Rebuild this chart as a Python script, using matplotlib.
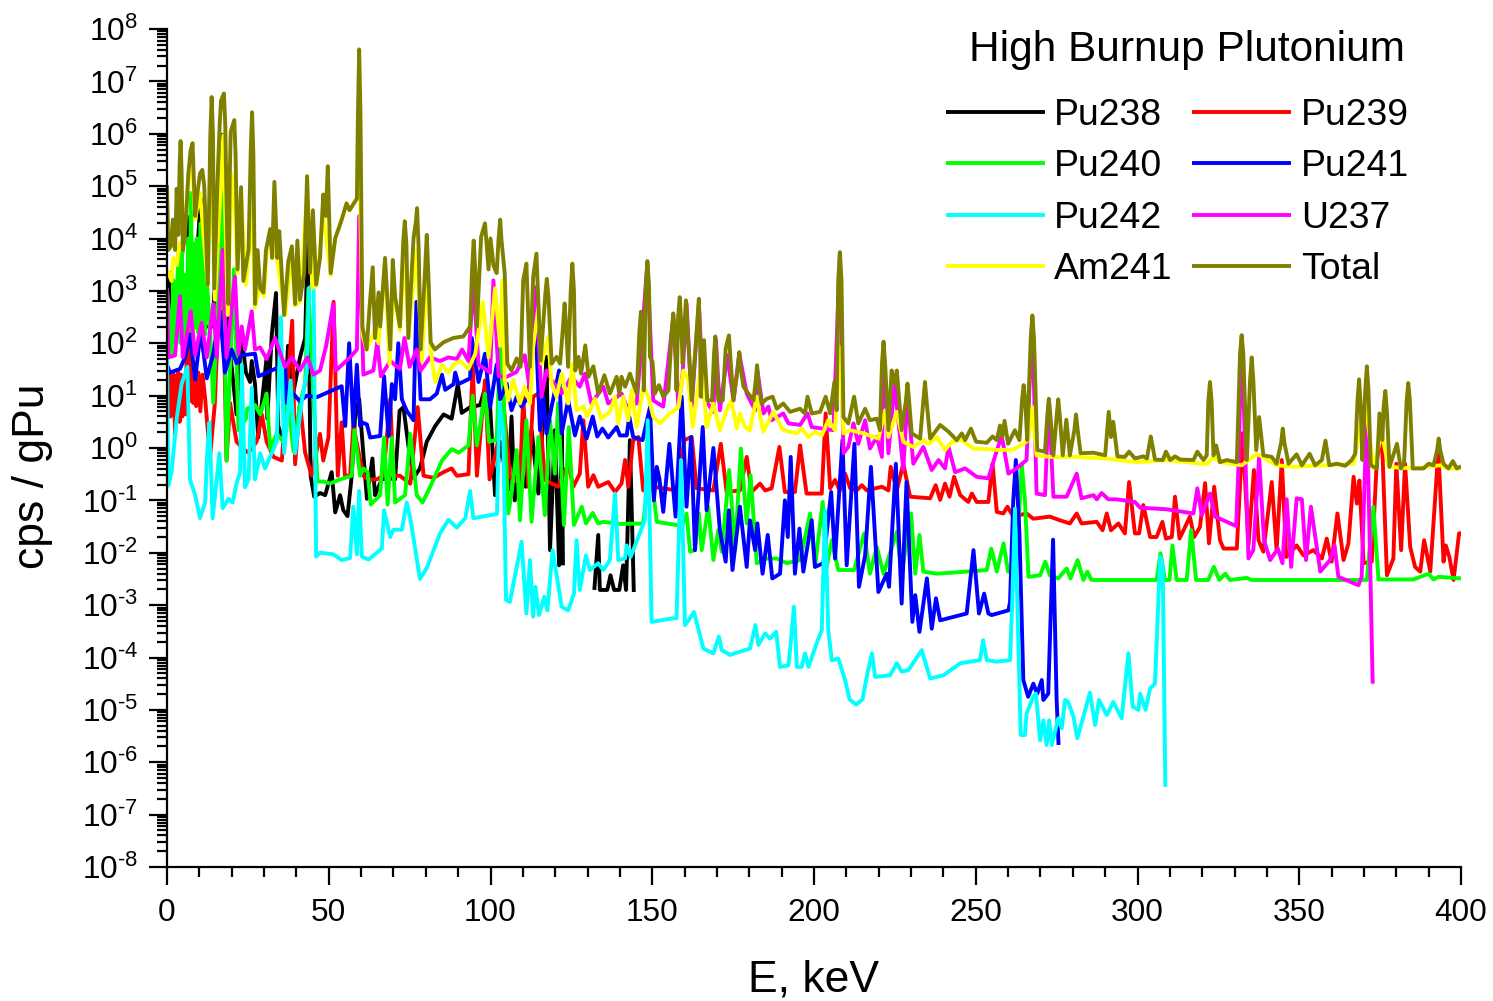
import numpy as np
import matplotlib
matplotlib.use("Agg")
import matplotlib.pyplot as plt
from matplotlib.ticker import FixedLocator, FixedFormatter, LogLocator, NullFormatter, MultipleLocator

plt.rcParams['font.family'] = ['Liberation Sans', 'DejaVu Sans']
plt.rcParams['mathtext.fontset'] = 'custom'
plt.rcParams['mathtext.rm'] = 'Liberation Sans'
plt.rcParams['mathtext.default'] = 'rm'

nan = float('nan')
# every series: (E in keV, log10 of cps/gPu)
pu238 = [(0,1.6),(0.9,3.34),(3,2.46),(4.8,3.78),(6.1,4.43),(8.1,2.46),(10.4,4.76),(11.8,2.32),(14.1,2.32),(17.2,5.98),(18.7,2.32),(21.5,.64),(23,2.17),(24.4,1.44),(25.7,1.26),(26.2,1.66),(27.2,1.22),(28.2,.2),(30.8,1.73),(31,.56),(32.4,2.17),(33.7,2.96),(34.4,.42),(36,.12),(37.4,1.95),(39.1,1.07),(41.1,1.73),(42.7,2.1),(43.5,4),(44.4,-.53),(45.5,-.93),(47.3,-.86),(48.9,-.9),(50.9,-.46),(52,-1.23),(53.5,-.9),(54.5,-1.19),(55.8,-1.3),(57.1,-.53),(58.1,.56),(59.4,.93),(60.4,.12),(61.8,-.97),(63.5,-.2),(64.3,-.9),(66.4,-.6),(68.5,-.57),(70.5,-.6),(71.9,.71),(73.1,.78),(74.6,.05),(76.2,-.57),(78.2,-.39),(80.3,.12),(82.9,.42),(85.5,.64),(88,.56),(89.9,1.22),(91.1,.67),(93.7,.78),(96.8,.82),(98.3,1.15),(99.9,.78),(101.4,-.9),(103,.12),(105.5,-.8),(106.5,.6),(107.5,-1.0),(108.6,-.23),(110.9,-.74),(112.7,.34),(114.8,-.87),(116.3,.6),(117.3,1.74),(118.4,-1.95),(119.9,.34),(121.2,-2.24),(122,.34),(122.4,-2.24),(123,nan),(132.1,-2.71),(133.3,-1.66),(133.8,-2.71),(136.1,-2.71),(137.1,-2.43),(138.2,-2.71),(139.8,-2.71),(141,-2.24),(141.9,-2.71),(143.1,.15),(144.3,-2.75)]

pu239 = [(.4,.86),(.8,1.44),(1.1,.6),(1.4,1.37),(1.8,.7),(2.1,1.4),(2.5,.27),(2.9,1.3),(3.5,1.44),(3.9,.5),(4.3,1.4),(4.7,.6),(5,1.3),(5.6,.64),(6.6,2.83),(7.2,.9),(7.7,1.8),(8.1,.86),(8.6,1.5),(9,.8),(9.7,1.44),(10.3,.7),(11,1.4),(11.8,.93),(13.3,-.17),(14.8,.86),(16.9,4.29),(18.4,-.24),(19.5,.86),(21.5,.12),(23.6,-.02),(25.2,-.09),(27.7,.12),(29.3,.64),(30.8,.12),(32.9,-.17),(35.5,-.24),(37.2,1.15),(38.7,2.43),(39.6,-.31),(41.1,.86),(42.7,-.09),(44.7,-.53),(47.3,.27),(48.3,-.24),(49.9,.2),(51.5,2.79),(52.8,-.53),(54,.49),(55,-.53),(56.6,-.53),(57.6,.42),(60.7,-.53),(62.3,-.6),(64.8,-.6),(66.9,-.53),(69,.93),(70,-.53),(72,-.53),(75.2,-.68),(77.5,.78),(79.3,-.53),(82.4,-.57),(85.5,-.46),(88,-.39),(89.6,-.53),(93.2,-.5),(94.5,1.59),(95.8,-.53),(98.3,1.29),(99.7,-.6),(101.9,-.02),(104,.86),(105.6,-.24),(106,-.55),(109.1,-.68),(110.1,.98),(111.7,-.74),(113.2,.98),(114.8,1.04),(116.8,-.61),(120.9,-.74),(124,-.3),(125.6,-.74),(127.6,-.49),(128.7,.53),(130.2,-.74),(131.8,-.52),(133.3,-.74),(136.4,-.65),(138.5,-.84),(140.5,-.68),(141.6,-.23),(142.6,-.74),(144.1,.15),(145.7,.21),(147.2,-.81),(150.3,-.74),(153.4,-.77),(157.5,-.81),(159.9,.15),(162.2,.21),(163.7,-.77),(168.9,-.81),(171.2,.08),(173,-.84),(177.1,-.81),(179.2,-.17),(180.7,-.84),(183.3,-.68),(184.9,-.81),(186.9,-.77),(189.3,.02),(191,-.84),(194.1,-.84),(195.7,.05),(197.7,-.87),(202.4,-.87),(203.6,.66),(205,-.77),(206.5,-.61),(208,-.81),(209.6,-.49),(211.2,-.77),(213.2,-.81),(214.8,-.71),(216.3,-.81),(221,-.74),(223,-.81),(223.7,-.36),(225.6,-.81),(227.6,-.3),(229.7,-.93),(235.9,-.96),(237.6,-.71),(239,-.99),(240.5,-.68),(241.9,-.93),(243.3,-.55),(245.2,-.9),(247.7,-1.03),(248.8,-.87),(250.3,-1.03),(253.9,-1.03),(255.2,-.3),(256.5,-1.22),(258.5,-1.25),(259.8,-1.12),(261.6,-1.31),(265.7,-1.25),(267.8,-1.35),(272.9,-1.31),(276,-1.38),(279.1,-1.44),(281.2,-1.25),(282.7,-1.44),(287.4,-1.41),(289.2,-1.57),(290.5,-1.25),(291.8,-1.57),(294.1,-1.44),(296.1,-1.63),(297.4,-.65),(299.2,-1.63),(300.5,-1.63),(301.8,-1.09),(303.9,-1.7),(305.9,-1.7),(307.7,-1.41),(308.8,-1.73),(310.6,-1.7),(311.6,-.93),(313,-1.73),(314.7,-1.51),(316.2,-1.31),(317.5,-1.7),(319.3,-1.51),(320.9,-.67),(322.1,-1.82),(323.7,-.74),(325.5,-1.76),(326.6,-1.92),(330.7,-1.92),(332.5,.28),(334.3,-1.86),(336,-.42),(337.4,-1.76),(338.9,-1.98),(341.5,-.65),(343,-1.95),(344.6,-.23),(346,-2.08),(349.2,-1.86),(351.3,-2.05),(354.4,-1.95),(357,-2.11),(358.5,-1.73),(360,-2.17),(361.8,-1.25),(363.7,-2.14),(365.2,-1.82),(366.8,-.55),(367.8,-1.06),(368.6,-.62),(369.9,-2.2),(372.4,-2.17),(374,-.23),(375.5,.28),(377.1,-2.43),(379.1,-2.11),(380,-.3),(381.5,-1.95),(382.7,-.3),(384.3,-1.89),(385.8,-2.27),(387.4,-2.36),(388.6,-1.76),(390.5,-2.36),(393,-.04),(394.6,-2.17),(395.3,-1.86),(396.4,-2.08),(397.7,-2.52),(399.4,-1.63),(400,-1.63)]

pu240 = [(0,3.05),(.9,2.3),(1.4,1.8),(2,3.2),(2.4,2),(3,2.9),(3.6,3.8),(4.2,2.0),(4.6,3.78),(5,1.95),(5.5,3.3),(6.1,2.0),(6.5,4.0),(7,2.2),(7.4,4.87),(7.9,2.1),(8.3,3.9),(8.7,2.3),(9.2,4),(9.7,2.2),(10.4,4.29),(10.9,2.1),(11.3,3.8),(11.8,2.17),(12.3,3.2),(13.3,2.3),(14.3,.86),(15.9,3.05),(17,5.82),(18.4,-.24),(20.7,3.41),(22.1,.34),(24.4,.56),(24.8,.75),(27.2,.82),(28.8,.64),(30.8,1.04),(31.9,-.02),(33.9,.27),(36,.12),(37.2,1.0),(39.1,-.06),(41.1,.86),(42.7,1.22),(43.7,3.05),(46.5,-.64),(48.4,-.64),(50.4,-.68),(53.5,-.6),(57.1,-.53),(57.9,.34),(59.7,-.53),(60.7,-.39),(62,-.46),(63,-1.08),(65.9,-.9),(67.1,.2),(68.2,-1.08),(69.5,.2),(70.5,-1.04),(73.6,-.9),(75.2,.27),(77.2,-.9),(79,-1.04),(81.3,-.75),(85,-.24),(88,-.02),(90.1,-.09),(93.2,.05),(94.5,1.0),(95.8,.05),(98.3,1.04),(99.6,.12),(101.9,.16),(103.2,2.32),(105.5,-1.25),(106.5,-.87),(108.1,-.04),(109.1,-1.38),(111.1,.53),(112.7,-1.41),(114.8,.21),(116.8,-1.28),(118.4,.53),(119.9,-.49),(120.9,.85),(122.7,-1.47),(124.2,.4),(125.8,-1.47),(128.2,-1.12),(129.5,-1.44),(131.6,-1.24),(133.3,-1.44),(134.9,-1.41),(140,-1.45),(147.2,-1.44),(149.3,-.3),(151.4,-1.41),(157.5,-1.47),(159.1,-1.51),(160.6,-1.25),(161.7,-1.98),(163.2,-1.95),(164.4,-1.25),(165.3,-1.95),(167.3,-1.12),(168.9,-2.14),(170.4,-1.57),(171.5,-1.98),(173.8,-.42),(175.6,-1.95),(177.4,-.01),(179.2,-1.44),(180.4,-.52),(182.3,-2.2),(185.4,-2.11),(188.5,-2.11),(191.6,-2.2),(195.7,-2.14),(198.8,-1.25),(200.3,-2.27),(202.7,-1.03),(203.9,-2.27),(205.5,-1.76),(207.5,-2.33),(210.6,-2.33),(212.4,-2.33),(215.5,-1.63),(217.3,-2.4),(219.4,-1.89),(221.5,-2.4),(225.6,-1.6),(227.1,-2.4),(230,-1.25),(231.3,-2.4),(232.6,-1.66),(233.8,-2.36),(237.9,-2.4),(247.2,-2.36),(253.4,-2.33),(254.8,-1.92),(256.5,-2.36),(258.6,-1.82),(260,-2.36),(262.4,-2.4),(264.2,-.3),(265.2,-1.0),(266.3,-2.46),(269.9,-2.43),(271.5,-2.17),(272.9,-2.43),(275.5,-2.49),(278.1,-2.3),(279.3,-2.49),(281.5,-2.14),(283.3,-2.52),(284.5,-2.36),(285.8,-2.52),(305.9,-2.52),(307.1,-2.01),(308.5,-2.52),(309.9,-2.52),(310.8,-1.86),(312.1,-2.52),(315.2,-2.52),(316.6,-1.57),(318.1,-2.52),(321.9,-2.52),(323.6,-2.27),(325.3,-2.52),(327.1,-2.4),(328.6,-2.52),(333.8,-2.48),(335.3,-2.52),(370.9,-2.52),(372.9,-1.12),(374.5,-2.51),(385.3,-2.51),(390,-2.4),(391.5,-2.51),(393,-2.46),(400,-2.49)]

pu241 = [(0,1.59),(.9,1.44),(4,1.51),(5.6,1.73),(7.1,2.17),(8.7,1.3),(10.4,2.24),(12.3,1.33),(14.3,1.8),(16.4,2.61),(17.9,1.44),(20,1.88),(21.5,1.62),(23.1,1.77),(27.2,1.8),(28.3,1.37),(30.8,1.44),(33.4,1.51),(36.5,1.59),(37,.86),(38.6,1.07),(41.1,.89),(43.2,1),(46.3,.97),(54,1.18),(55.1,.42),(56.3,2.0),(57.6,.42),(58.7,1.59),(59.7,.42),(60.2,.49),(61.8,.45),(62.8,.2),(65.9,.23),(67.1,1.37),(68.5,.23),(69.5,1.22),(70.5,.93),(71.5,2),(72.6,.93),(74.1,.71),(76.2,.53),(77.1,2.79),(78.4,.93),(81.3,.93),(83.4,1.04),(85,1.4),(86,1.11),(88.6,1.22),(89.1,1.44),(90.1,1.22),(93.7,1.33),(94.2,2.1),(96.3,1.26),(98.3,1.8),(99.9,.78),(101.9,1.59),(103,.93),(105,1.23),(106.5,.72),(108.1,.98),(109.6,.79),(111.7,.98),(113.7,2.69),(115.3,.34),(116.3,.98),(117.3,.28),(118.9,.79),(121.2,1.48),(122,.28),(124,.91),(126.1,.24),(127.6,.6),(129.7,.18),(131.6,.6),(133,.22),(134.6,.37),(136.4,.2),(139,.4),(140,.24),(142.1,.24),(142.9,.6),(144.1,.21),(147,.15),(149.3,.78),(150.5,-1),(151.4,-.36),(152.2,-.58),(153.4,-1.22),(155.3,.08),(157.2,-1.31),(159.1,.98),(160.6,-1.12),(162,.21),(163.2,-1.95),(165.6,.4),(166.8,-1.19),(168.9,0),(170.9,-1.57),(172.7,-2.17),(173.7,-1.19),(174.8,-2.33),(177.1,-1.12),(179.2,-2.27),(180.2,-1.38),(181.8,-1.95),(182.5,-1.44),(184.1,-2.4),(185.7,-1.66),(187.1,-2.49),(189.5,-2.4),(191,-1),(191.9,-1.7),(192.8,-.17),(194.1,-2.4),(195.5,-1.54),(196.7,-2.36),(199.3,-1.38),(200.3,-2.27),(202.9,-2.2),(205.3,-.84),(206.5,-2.11),(208.8,.15),(210.1,-2.24),(212.5,.08),(213.9,-2.65),(215.8,-2.05),(217.6,-.36),(219.9,-2.75),(222.5,-2.4),(223.2,-2.65),(225.3,-.3),(227.1,-2.97),(228.6,-.65),(230.4,-3.32),(231.3,-2.81),(232.6,-3.51),(234.9,-2.49),(236.4,-3.45),(237.7,-2.87),(239,-3.29),(247.2,-3.16),(249.3,-1.95),(251,-3.16),(252.6,-2.78),(253.9,-3.16),(254.9,-3.19),(260.1,-3.1),(260.6,-2.94),(261.6,-1.0),(262.4,-.23),(263.5,-1.63),(264.7,-4.43),(266.2,-4.75),(267.8,-4.5),(269,-4.69),(270.4,-4.43),(270.9,-4.81),(272.4,-4.69),(273.9,-1.75),(275,-4.81),(275.6,-5.67)]

pu242 = [(0,1.73),(.4,-.72),(1.4,-.46),(3,.56),(4.5,1.22),(6.3,1.55),(7.1,-.6),(8.7,-.9),(10.2,-1.34),(11.8,-1.04),(12.3,-.24),(13.1,.49),(14.1,-1.34),(15.2,-.68),(16.2,-.1),(17.2,-1.15),(19,-.97),(20.3,-1.04),(21.5,-.68),(22.6,-.46),(23.1,1.59),(24.1,-.75),(25.2,-.6),(26.2,1.15),(27.2,-.6),(28.8,-.1),(30.3,-.39),(33.9,.12),(35.2,2.5),(36.2,-.1),(38.2,1.29),(39.6,-.1),(41.6,.86),(43.2,1.44),(43.9,3.05),(45.3,3.12),(46.1,-2.07),(47.3,-2),(51.4,-2.03),(54,-2.14),(56.6,-2.1),(57.6,-1.12),(58.7,-2.03),(59.4,-.82),(60.2,-2.07),(62.3,-2.13),(66.4,-1.92),(67.1,-1.19),(69,-1.7),(70,-1.56),(72.6,-1.56),(74.1,-1.04),(75.2,-1.34),(78.2,-2.5),(80.3,-2.29),(84.4,-1.63),(87,-1.37),(89.6,-1.52),(92.2,-1.34),(93.7,-.82),(94.7,-1.34),(102,-1.26),(102.8,.86),(103.9,.34),(104.8,-2.9),(106,-2.94),(108.1,-2.27),(109.6,-1.79),(111.1,-3.16),(112.2,-2.14),(113.2,-3.22),(113.9,-2.65),(115,-3.19),(116.6,-2.84),(117.6,-3.1),(119.2,-1.95),(122,-3.03),(124,-3.1),(125.8,-2.78),(126.6,-1.76),(127.6,-2.71),(129.5,-2.05),(130.7,-2.33),(133.3,-2.2),(134.9,-2.33),(136.9,-2.14),(138.5,-.87),(139.5,-2.14),(141.6,-2.11),(142.1,-1.86),(143.3,-2.08),(145.7,-1.7),(147.7,-1.38),(148.6,.53),(149.8,-3.32),(156.5,-3.25),(157.5,-3.25),(158.9,-.23),(160.1,-3.38),(161.7,-3.25),(162.9,-3.13),(165.8,-3.83),(168.9,-3.92),(170.6,-3.6),(171.5,-3.86),(174,-3.95),(180.2,-3.83),(181.9,-3.38),(182.8,-3.76),(184.9,-3.54),(186.4,-3.64),(188.3,-3.51),(189.5,-4.18),(192.1,-4.15),(192.8,-3.73),(193.8,-3.03),(194.7,-4.18),(196.2,-4.18),(197.2,-3.92),(198.3,-4.18),(200.8,-3.73),(202.4,-3.48),(203.4,-1.19),(204.4,-3.48),(205.5,-4.05),(207.5,-4.02),(209.6,-4.43),(211,-4.8),(213,-4.9),(215,-4.8),(216.3,-4.37),(217.9,-3.92),(218.9,-4.37),(223.5,-4.34),(225.6,-4.11),(227.1,-4.27),(229.2,-4.24),(233.3,-3.86),(235.9,-4.4),(240,-4.34),(245.2,-4.11),(251.3,-4.05),(252.3,-3.67),(253.4,-4.05),(256.5,-4.08),(260.6,-4.05),(261.3,-2.9),(262.1,-1.16),(263.5,-4.5),(263.9,-5.48),(265.2,-5.48),(265.7,-5.07),(267.8,-4.75),(268.6,-4.69),(269.9,-5.58),(270.9,-5.2),(271.9,-5.67),(272.7,-5.2),(273.5,-5.67),(275.5,-5.16),(276.6,-5.35),(277.6,-4.81),(278.6,-4.85),(280.2,-5.13),(281.4,-5.54),(282.7,-5.26),(285.3,-4.67),(286.9,-5.29),(288.1,-4.81),(290.5,-5.1),(292.5,-4.85),(295.1,-5.16),(296.1,-4.56),(297.2,-3.92),(298.5,-4.94),(300.3,-5),(300.8,-4.69),(302.5,-5),(303.9,-4.59),(305.4,-4.5),(307,-2.08),(307.8,-2.27),(308.6,-6.47)]

u237 = [(0,3.05),(.4,1.73),(2.5,1.77),(4,2.9),(4.9,1.73),(6.6,2.32),(7.3,2.61),(8.7,1.77),(10.7,2.39),(12.3,1.73),(14.3,2.75),(15.4,1.73),(17.2,3.78),(18.4,1.73),(21,3.27),(22.1,1.8),(23.1,2.32),(24.1,1.88),(26.2,2.61),(27.2,1.88),(28.8,1.92),(30.8,1.7),(33.4,2.1),(36.5,1.55),(38.6,1.73),(41.1,1.48),(43.4,1.73),(45.3,1.4),(47.3,1.48),(49.2,1.95),(50.4,2.39),(51.4,2.75),(52.2,1.48),(56.6,1.73),(58.7,1.88),(59.4,4.43),(60.7,1.4),(63.8,1.48),(65,2.02),(66.1,1.37),(69,1.66),(72,1.51),(73.4,2.1),(75,1.55),(77.2,1.88),(78.4,1.48),(81.3,1.73),(84.4,1.66),(87,1.73),(89.6,1.7),(91.2,1.88),(93.2,1.66),(94.7,3.2),(96.3,1.59),(99.9,1.44),(100.9,3.2),(102.5,1.37),(105,1.36),(108,1.45),(110.6,1.77),(112.2,1.1),(114,3.07),(115.8,.98),(117.3,1.48),(118.9,1.3),(122,1.04),(125,1.36),(127.6,1.17),(129.2,1.42),(131.2,.85),(134.9,1.17),(136.4,.85),(140.5,1.04),(142.1,.79),(145.2,.85),(148.5,3.52),(150.3,.91),(153.4,.79),(156.5,2.5),(158.1,.79),(159.4,1.42),(160.6,2.76),(162.2,.79),(164.4,2.76),(165.8,.98),(168.9,.69),(169.7,2.06),(170.9,.72),(173.2,1.77),(175.1,.91),(176.9,1.8),(179.2,1.04),(181.8,.72),(182.5,1.48),(184.4,.66),(185.9,.79),(186.9,.53),(190.5,.66),(192.1,.47),(195.7,.44),(198,.66),(199.3,.4),(206,.34),(208,3.71),(209.1,-.1),(210.6,.02),(212.2,.47),(213.7,.08),(215.8,.53),(217.3,-.01),(219.4,.21),(221,-.17),(221.5,1.99),(223,-.1),(224.9,1.23),(226.6,.21),(227.6,-.42),(228.9,.98),(230.7,-.3),(233.8,.02),(236.4,-.42),(238.5,-.23),(240.5,-.39),(241.6,.02),(243.6,-.46),(246.7,-.39),(250.3,-.55),(253.9,-.58),(255.9,-.17),(258,.24),(260.1,-.49),(262.6,-.39),(265.7,-.23),(267.5,2.5),(268.8,-.87),(271.4,-.9),(272.6,.91),(274,-.93),(278.1,-.93),(281.2,-.49),(282.7,-.96),(286.4,-.9),(287.4,-.98),(288.9,-.86),(291,-.98),(293.6,-.98),(299.2,-1.03),(300.8,-1.14),(309,-1.17),(317.3,-1.25),(318.5,-.77),(319.9,-1.28),(322.4,-.87),(324,-1.31),(330.5,-1.49),(331.2,-.36),(332.2,2.15),(334.3,-2.11),(335.8,-1.95),(337.6,-.17),(339.1,-1.76),(341,-2.14),(343.4,-1.92),(344.8,-2.2),(346.1,-.98),(347.5,-2.27),(349.2,-.96),(350.8,-.98),(352.1,-2.14),(353.6,-1.12),(356.5,-2.36),(359.5,-2.14),(360.9,-1.86),(362.1,-2.46),(368.3,-2.62),(369.3,-2.46),(370.9,.78),(372.7,-4.5)]

am241 = [(0,3.41),(1.4,3.19),(2,3.63),(3,3.49),(4,3.92),(5,3.85),(6.6,5.09),(7.6,5.6),(8.7,4.36),(10.2,4.87),(12.6,3.12),(13.8,5.97),(14.8,2.83),(17.4,5.97),(18.8,2.54),(20,5.24),(21,4.51),(21.8,3.34),(22.9,4.87),(24.4,3.12),(26.3,4.51),(27.2,2.68),(28.8,3.1),(30,2.9),(30.8,3.7),(31.9,4.1),(34.1,3.56),(36.6,2.54),(38.6,3.78),(39.6,2.72),(41.1,2.8),(43.3,4.87),(45,3.05),(46.3,3.12),(48.3,4.5),(50.6,3.3),(52,4.0),(54,4.36),(55.5,4.67),(56.4,4.54),(58.7,4.76),(59.4,5.97),(60.4,2.17),(61.7,1.88),(64.8,2.32),(65.4,2.0),(67.4,3.5),(68.8,1.6),(70,3.05),(72,2.24),(73.5,3.78),(74.6,2.1),(77.2,3.78),(78.8,1.66),(80.3,3.41),(81.5,1.88),(82.9,1.26),(85,1.59),(87,1.44),(88.6,1.59),(90.6,1.66),(93.2,1.51),(95.3,1.8),(97.6,2.79),(99.4,1.73),(101.4,3.05),(103,1.95),(103.7,3.2),(104.4,1.3),(105.5,.91),(107,1.3),(109.1,.85),(110.6,1.17),(112.2,.85),(113.2,1.93),(114.8,2.69),(115.8,1.61),(117.8,2.12),(118.9,1.23),(120.4,.98),(122,1.42),(124,.85),(125.3,1.61),(126.6,.72),(128.7,.79),(129.9,.6),(132.3,.94),(134.3,.56),(136.9,.69),(138.5,.98),(139.5,.47),(141,.98),(142.6,.53),(143.6,1.1),(145.2,.4),(147.2,1.17),(148.8,.98),(150.3,.6),(152.4,.47),(155.5,.66),(158.1,.78),(159.6,1.48),(161.1,1.3),(162.5,.4),(165.3,1.67),(166.8,.4),(168.9,.85),(170.9,.34),(173,.72),(174.5,.91),(176.1,.37),(177.1,.66),(178.7,.4),(180.2,.34),(182.3,.98),(184.3,.31),(187.4,.69),(190.5,.34),(194.7,.28),(196.2,.37),(198.3,.21),(200.3,.31),(202.4,.24),(204.4,.53),(206.5,.34),(208,1.93),(209.1,.28),(211.2,.34),(215.3,.28),(219.9,.18),(222,.72),(223,.21),(225.6,.69),(227.6,.12),(230.7,.02),(233.8,.15),(235.4,.08),(238,.21),(240.5,-.04),(242.6,.12),(245.7,.15),(249.3,-.01),(257.5,-.04),(261.6,-.03),(264.7,.08),(266.2,.15),(267.5,.78),(268.8,-.14),(272.9,-.17),(281.2,-.17),(290.5,-.2),(294.1,-.23),(299.8,-.27),(309,-.23),(321.4,-.31),(323.5,-.17),(325.5,-.27),(332.2,-.33),(336.9,-.11),(343,-.33),(348.2,-.36),(366.8,-.3),(370.4,.91),(372.9,-.39),(375.5,.28),(377.6,-.36),(385.3,-.39),(393.6,-.33),(395.6,-.39),(400,-.39)]

total = [(0,5.02),(.4,3.78),(1.2,3.85),(1.8,4.36),(2.5,3.78),(3,4.95),(3.5,4.07),(3.9,5.4),(4.2,5.86),(4.5,5.3),(4.9,3.78),(5.6,4.07),(6.6,5.24),(7.3,5.68),(7.9,5.82),(8.7,4.43),(9.4,4.87),(10.2,5.24),(10.9,5.31),(11.5,5.02),(12.6,3.12),(13.4,6.0),(13.8,6.7),(14.2,6.0),(14.6,3.05),(15.6,5.09),(16.3,6.2),(16.7,6.63),(17.6,6.77),(18,6.2),(18.4,4.73),(19,2.75),(19.4,5.2),(19.7,6.04),(20.8,6.26),(21.2,5.6),(21.8,3.41),(22.9,4.98),(23.6,3.19),(25.2,3.78),(25.9,5.7),(26.3,6.41),(26.7,5.6),(27.2,2.75),(28,3.78),(28.8,3.05),(29.8,2.97),(30.6,3.78),(31.9,4.18),(32.5,3.63),(33.2,5.08),(34.1,3.63),(34.7,4.14),(36.2,2.54),(37.5,3.56),(38.6,3.85),(39.6,2.75),(40.3,3.96),(41.1,2.83),(42.4,3.34),(43.3,5.19),(44.2,3.34),(45.1,4.54),(46.1,3.12),(47.3,3.63),(48.3,4.84),(49.1,4.43),(49.7,5.38),(50.6,3.34),(52,4.0),(54,4.36),(55.5,4.67),(56.4,4.54),(58.7,4.76),(59,6.3),(59.4,7.61),(59.8,6.4),(60.4,2.32),(61.7,1.88),(62.6,2.68),(63.6,3.45),(64.3,2.1),(65.4,2.97),(65.9,2.32),(67.4,3.63),(69,1.88),(69.8,3.59),(70.5,2.9),(72,2.32),(73,3.9),(73.5,4.33),(74,3.9),(74.6,2.1),(76.2,4.0),(76.9,4.3),(77.3,4.58),(77.8,3.8),(78.4,1.88),(79.7,3.3),(80.3,4.07),(80.8,3.3),(81.5,2.02),(82.8,1.88),(85.5,2.02),(88.5,2.1),(91.6,2.13),(93.7,2.32),(94.3,3.4),(94.8,3.96),(95.3,3.4),(95.8,2.32),(97.1,4.03),(98.3,4.29),(99.4,3.41),(100,4.0),(100.9,3.49),(101.9,3.34),(102.5,4.0),(103,4.36),(103.4,3.97),(104.4,3.33),(105.2,1.61),(106.5,1.48),(108.1,1.71),(109.3,1.55),(110.1,3.2),(111.1,3.52),(112.2,1.55),(113.2,3.27),(114.2,3.71),(115.5,1.67),(116.9,2.9),(117.4,3.23),(117.9,2.9),(118.9,1.61),(120.4,1.74),(121.5,1.61),(122.4,2.3),(122.9,2.76),(123.4,2.3),(124,1.55),(124.8,3),(125.3,3.52),(125.8,3),(126.2,1.48),(127.2,1.74),(128,1.42),(129.3,1.96),(130.3,1.36),(131.8,1.56),(133.3,1.04),(135.2,1.39),(136.9,1.04),(139,1.36),(139.8,1.04),(140.5,1.36),(141.6,1.17),(143.1,1.42),(145.2,1.04),(146,2.2),(146.5,2.6),(147,2.2),(147.4,1.1),(148,3.1),(148.5,3.57),(149,3.1),(149.3,1.74),(150.1,1.64),(150.8,1.04),(152.1,1.2),(153.4,.98),(155,1.1),(156,2.2),(156.5,2.57),(157,2.2),(157.5,1.1),(158,2.5),(158.5,2.88),(159,2.3),(159.4,1.61),(160,2.4),(160.4,2.82),(160.9,2.3),(162.2,.91),(163.7,2.2),(164.4,2.85),(164.8,2),(165,.98),(165.6,1.8),(166,2.06),(166.4,1.6),(167,.91),(168.5,.91),(169.1,1.8),(169.5,2.13),(169.9,1.7),(170.4,.91),(171.8,.91),(172.7,1.9),(173.7,2.15),(174.3,1.6),(175.1,.91),(176.4,1.5),(176.9,1.83),(177.4,1.5),(178.2,1.17),(179.7,1.04),(181.3,.91),(182,1.3),(182.4,1.58),(182.9,1.2),(183.8,.85),(185.4,.94),(187.2,.98),(188.5,.75),(190.5,.85),(192.6,.69),(195.7,.75),(197.2,.66),(198,.98),(199.3,.66),(201.9,.69),(203.6,.98),(205,.66),(206.3,1.26),(207,.72),(207.5,3.2),(208,3.74),(208.5,3.2),(209.1,.59),(210.6,.47),(212.4,.98),(213.7,.47),(215.8,.75),(217.3,.53),(219.4,.56),(220.4,.34),(221,1.6),(221.5,2.03),(222,1.6),(223,.34),(224,1.48),(224.9,1.23),(225.6,1.48),(227.1,.34),(228.4,.9),(228.9,1.23),(229.4,.9),(230.2,.28),(232.8,.18),(233.8,.9),(234.3,1.26),(234.8,.9),(235.9,.18),(239,.44),(241.6,.31),(244.1,.15),(245.7,.28),(246.7,.15),(248.5,.37),(250.1,.12),(253.4,.10),(255.2,.22),(256.5,.15),(257.5,.43),(258.2,.21),(258.9,.52),(260,.08),(262.1,.34),(263.5,.15),(264.3,.9),(264.8,1.2),(265.3,.9),(265.9,.15),(267,2.1),(267.5,2.53),(268,2.1),(269,-.04),(271.4,-.07),(272.1,.6),(272.6,.94),(273.1,.6),(274,-.14),(275,.6),(275.5,.93),(276,.6),(276.9,-.14),(278,.54),(279.1,-.14),(280.5,.35),(281,.64),(281.5,.35),(282.4,-.1),(286.4,-.09),(290,-.14),(291.1,.69),(291.8,.21),(292.5,.5),(293.8,-.16),(296.1,-.17),(297.4,-.07),(299.2,-.2),(301.8,-.16),(302.9,-.2),(304.1,.22),(305.4,-.22),(307.8,-.23),(308.8,-.07),(310.1,-.23),(311.6,-.16),(313.2,-.22),(317.3,-.23),(318.5,-.07),(320.4,-.23),(321.4,-.14),(321.9,.9),(322.4,1.26),(322.9,.9),(323.5,-.14),(324.3,.05),(325.5,-.27),(327.6,-.23),(330.7,-.27),(331.7,1.8),(332.2,2.15),(332.7,1.8),(333.8,-.23),(334.8,1.3),(335.3,1.73),(335.8,1.3),(336.7,-.04),(337.6,.59),(338.9,-.14),(341.5,-.17),(343,-.3),(344.4,.1),(344.9,.37),(345.4,.1),(346.7,-.3),(349.2,-.12),(350.8,-.33),(353.2,-.11),(354.9,-.33),(357,-.23),(358.1,.14),(359.3,-.33),(361.6,-.3),(364.2,-.34),(366.2,-.23),(367.3,-.11),(368,.9),(368.5,1.31),(369,.8),(369.5,-.23),(370.4,1.1),(370.9,1.56),(371.4,1.1),(372.1,-.33),(374,-.39),(374.8,.66),(375.7,.15),(376.1,.8),(376.6,1.09),(377.1,.7),(377.9,-.36),(380.2,.08),(381.4,-.39),(382.4,-.3),(383.2,.9),(383.7,1.24),(384.2,.9),(385.1,-.39),(388.4,-.39),(390,-.3),(391.5,-.33),(392.6,-.05),(393.1,.18),(393.6,-.05),(394.6,-.3),(396.1,-.39),(397.5,-.25),(398.7,-.39),(400,-.35)]

names = ['Pu238', 'Pu239', 'Pu240', 'Pu241', 'Pu242', 'U237', 'Am241', 'Total']
series = [pu238, pu239, pu240, pu241, pu242, u237, am241, total]
colors = ['#000000', '#ff0000', '#00ff00', '#0000ff', '#00ffff', '#ff00ff', '#ffff00', '#808000']

W, H = 1493, 1001
fig = plt.figure(figsize=(W/100, H/100), dpi=100)
ax = fig.add_axes([167/W, 1-867/H, (1461-167)/W, (867-29)/H])

lines = {}
for name, s, c in zip(names, series, colors):
    arr = np.array(s, dtype=float)
    lines[name], = ax.plot(arr[:, 0], 10.0**arr[:, 1], color=c, lw=2.8, label=name,
                           solid_joinstyle='round', solid_capstyle='butt')

ax.set_yscale('log')
ax.set_xlim(0, 400)
ax.set_ylim(1e-8, 1e8)
for side in ('top', 'right'):
    ax.spines[side].set_visible(False)
for side in ('left', 'bottom'):
    ax.spines[side].set_linewidth(1.6)

ax.xaxis.set_major_locator(MultipleLocator(50))
ax.xaxis.set_minor_locator(MultipleLocator(10))
ax.yaxis.set_major_locator(FixedLocator([10.0**e for e in range(-8, 9)]))
ax.yaxis.set_major_formatter(FixedFormatter(
    [r'$\mathregular{10^{%s}}$' % (r'\text{-}%d' % -e if e < 0 else '%d' % e) for e in range(-8, 9)]))
ax.yaxis.set_minor_locator(LogLocator(base=10, subs=range(2, 10), numticks=40))
ax.yaxis.set_minor_formatter(NullFormatter())
ax.tick_params(axis='both', which='major', length=13, width=1.6, labelsize=22.7, direction='out')
ax.tick_params(axis='both', which='minor', length=7, width=1.6, direction='out')
ax.tick_params(axis='x', which='major', pad=9)
ax.tick_params(axis='y', which='major', pad=8)

ax.set_xlabel('E, keV', fontsize=32, va='center')
ax.xaxis.set_label_coords(0.5, (867-980)/838)
ax.set_ylabel('cps / gPu', fontsize=32, va='center')
ax.yaxis.set_label_coords((33-167)/1294, (867-476)/838)

order = ['Pu238', 'Pu240', 'Pu242', 'Am241', 'Pu239', 'Pu241', 'U237', 'Total']
leg = ax.legend([lines[n] for n in order], order, ncol=2, frameon=False, fontsize=26.9,
                title='High Burnup Plutonium', title_fontsize=30.5,
                handlelength=2.65, handletextpad=0.25, columnspacing=0.52, labelspacing=0.44,
                loc='upper left', bbox_to_anchor=((946-167)/1294, (867-30)/838),
                borderaxespad=0, borderpad=0)
leg._legend_box.sep = 20
leg.get_title().set_position((9, 0))
fig.savefig('out.png', dpi=100)
